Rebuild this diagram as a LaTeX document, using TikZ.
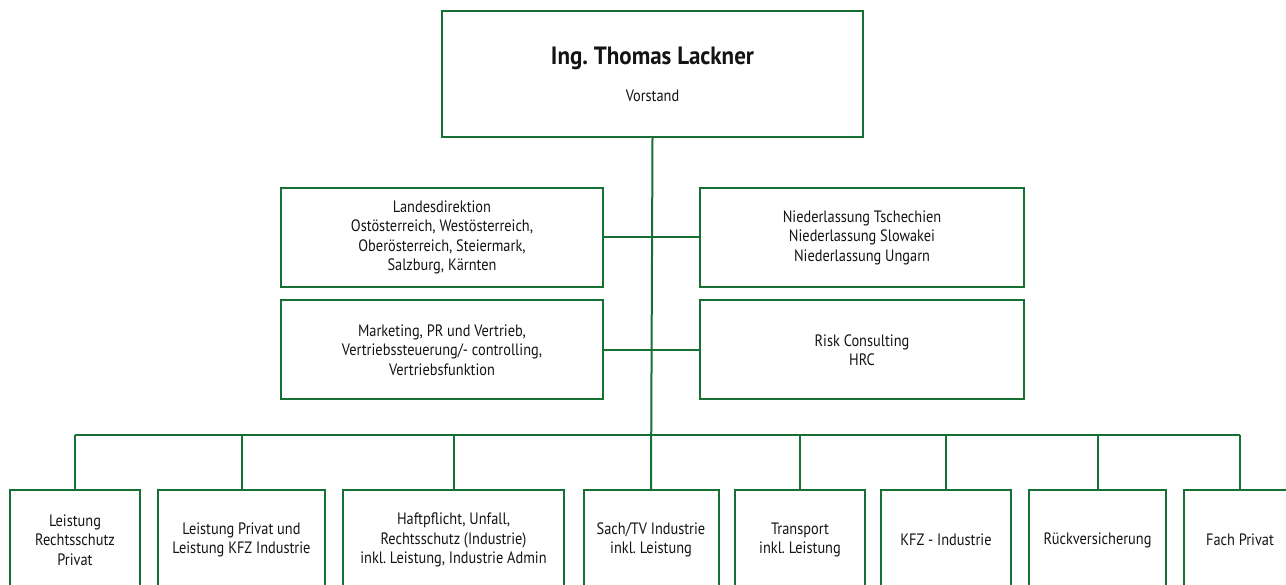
\documentclass[tikz,border=0pt]{standalone}
\usepackage{fontspec}
\setmainfont[FakeStretch=0.87]{PT Sans}
\newfontfamily\titlefont[FakeStretch=0.92]{PT Sans}
\definecolor{og}{RGB}{22,112,52}
\definecolor{tx}{RGB}{20,20,20}
\begin{document}
\frenchspacing
\begin{tikzpicture}[x=1pt,y=-1pt,
  box/.style={draw=og,line width=2pt,fill=white,inner sep=0pt,align=center,
    text=tx,font=\fontsize{16.5}{19.5}\selectfont},
  txt/.style={inner sep=0pt,align=center,text=tx,font=\fontsize{16.5}{19.5}\selectfont},
  link/.style={draw=og,line width=2pt}]
\useasboundingbox (0,0) rectangle (1286,585);
\clip (0,0) rectangle (1286,585);
\fill[white] (0,0) rectangle (1286,585);
% top
\node[box,minimum width=421,minimum height=126] (top) at (652.5,74) {};
\node[txt,font=\titlefont\fontsize{25}{29}\selectfont\bfseries] (name) at (652.5,58) {Ing. Thomas Lackner};
\node[txt] (role) at (652.5,96) {Vorstand};
% middle
\node[box,minimum width=322,minimum height=99] (l1) at (442,237.5)
  {Landesdirektion\\Ostösterreich, Westösterreich,\\Oberösterreich, Steiermark,\\Salzburg, Kärnten};
\node[box,minimum width=324,minimum height=99] (r1) at (862,237.5)
  {Niederlassung Tschechien\\Niederlassung Slowakei\\Niederlassung Ungarn};
\node[box,minimum width=322,minimum height=99] (l2) at (442,350)
  {Marketing, PR und Vertrieb,\\Vertriebssteuerung/- controlling,\\Vertriebsfunktion};
\node[box,minimum width=324,minimum height=99] (r2) at (862,350)
  {Risk Consulting\\HRC};
% bottom
\node[box,minimum width=130,minimum height=100] (b1) at (75,540) {Leistung\\Rechtsschutz\\Privat};
\node[box,minimum width=167,minimum height=100] (b2) at (241.5,540) {Leistung Privat und\\Leistung KFZ Industrie};
\node[box,minimum width=221,minimum height=100] (b3) at (453.5,540) {Haftpflicht, Unfall,\\Rechtsschutz (Industrie)\\inkl. Leistung, Industrie Admin};
\node[box,minimum width=135,minimum height=100] (b4) at (651,540) {Sach/TV Industrie\\inkl. Leistung};
\node[box,minimum width=130,minimum height=100] (b5) at (800,540) {Transport\\inkl. Leistung};
\node[box,minimum width=130,minimum height=100] (b6) at (946,540) {KFZ - Industrie};
\node[box,minimum width=137,minimum height=100] (b7) at (1097.5,540) {Rückversicherung};
\node[box,minimum width=112,minimum height=100] (b8) at (1240,540) {Fach Privat};
% connectors
\coordinate (bus) at (652,435);
\draw[link] (top.south) -- (b4.north);
\draw[link] (l1.east) -- (r1.west);
\draw[link] (l2.east) -- (r2.west);
\draw[link] (b1.north |- bus) -- (b8.north |- bus);
\foreach \b in {b1,b2,b3,b5,b6,b7,b8}{
  \draw[link] (\b.north |- bus) -- (\b.north);
}
\end{tikzpicture}
\end{document}
